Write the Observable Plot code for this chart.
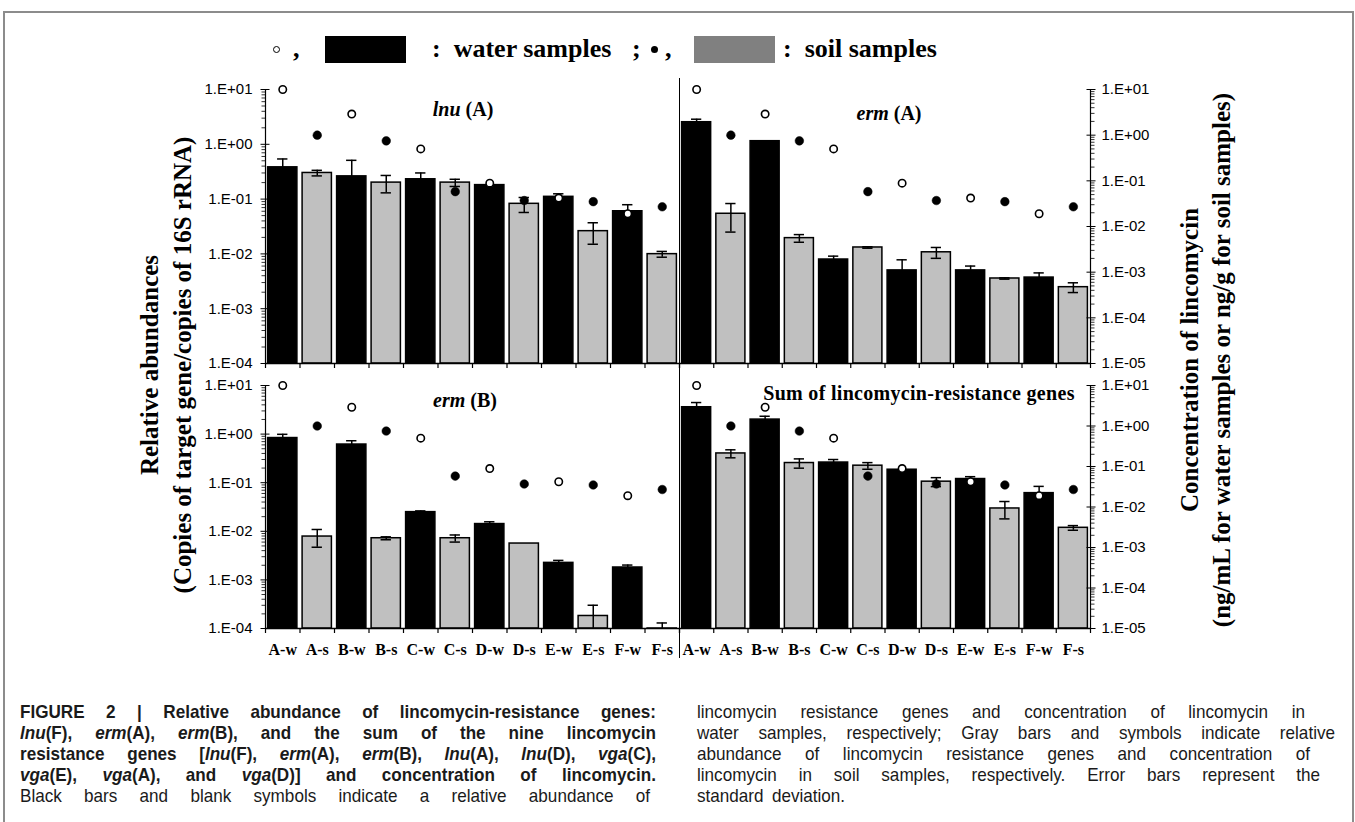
<!DOCTYPE html>
<html><head><meta charset="utf-8">
<script src="https://cdn.jsdelivr.net/npm/d3@7"></script>
<script src="https://cdn.jsdelivr.net/npm/@observablehq/plot@0.6"></script>
<style>
html,body{margin:0;padding:0;background:#fff;}
body{width:1355px;height:822px;overflow:hidden;position:relative;color:#000;font-family:"Liberation Serif","Times New Roman",serif;}
.abs{position:absolute;}
.ctr{position:absolute;transform:translate(-50%,-50%);white-space:nowrap;}
.ttl{font-weight:bold;font-size:20px;}
.ytl{position:absolute;white-space:nowrap;font-weight:bold;font-size:25px;transform:translate(-50%,-50%) rotate(-90deg);}
.leg{position:absolute;font-weight:bold;font-size:26px;line-height:30px;top:34px;white-space:nowrap;}
.cap{position:absolute;display:inline-block;font-family:"Liberation Sans",Arial,sans-serif;font-size:19px;line-height:21px;white-space:nowrap;color:#1a1a1a;transform-origin:0 0;}
svg [aria-label="x-axis tick label"]{font-family:"Liberation Serif",serif;font-weight:bold;font-size:16px;}
</style></head>
<body>
<div class="abs" style="left:3px;top:11px;width:1347px;height:900px;border:2px solid #8c8c8c;"></div>
<script>
// ---------------- data ----------------
const categories = ["A-w","A-s","B-w","B-s","C-w","C-s","D-w","D-s","E-w","E-s","F-w","F-s"];
const lnuA    = [0.38, 0.30, 0.26, 0.20, 0.23, 0.20, 0.18, 0.082, 0.11, 0.026, 0.060, 0.0099];
const lnuA_sd = [0.16, 0.035, 0.25, 0.07, 0.07, 0.03, 0, 0.025, 0.015, 0.011, 0.019, 0.0012];
const ermA    = [2.53, 0.054, 1.14, 0.0194, 0.0079, 0.0131, 0.0050, 0.0107, 0.0050, 0.00356, 0.0037, 0.00247];
const ermA_sd = [0.34, 0.029, 0.02, 0.0031, 0.0012, 0.0004, 0.0028, 0.0024, 0.0010, 0.0001, 0.0008, 0.0005];
const ermB    = [0.83, 0.0078, 0.61, 0.0072, 0.0248, 0.0072, 0.0141, 0.0056, 0.00224, 0.000181, 0.0018, 0.00009];
const ermB_sd = [0.16, 0.0031, 0.12, 0.0005, 0.0015, 0.0012, 0.0016, 0, 0.00028, 0.00012, 0.00022, 0.00004];
const sumGenes    = [3.57, 0.40, 1.99, 0.254, 0.26, 0.224, 0.185, 0.105, 0.119, 0.0295, 0.061, 0.0118];
const sumGenes_sd = [0.89, 0.075, 0.34, 0.055, 0.04, 0.035, 0, 0.022, 0.014, 0.0115, 0.023, 0.0013];
// lincomycin concentration (ng/mL water, ng/g soil), sites A..F
const concWater = [10, 2.9, 0.50, 0.089, 0.042, 0.019];
const concSoil  = [1.0, 0.75, 0.058, 0.037, 0.035, 0.027];
const abundanceTicks = [1e-4, 1e-3, 1e-2, 1e-1, 1, 10];
const concTicks = [1e-5, 1e-4, 1e-3, 1e-2, 1e-1, 1, 10];

// ---------------- helpers ----------------
const fmtE = d => { const e = Math.round(Math.log10(d)); return "1.E" + (e < 0 ? "-" : "+") + String(Math.abs(e)).padStart(2, "0"); };
function minorTicks(ticks) { const out = []; for (let k = 0; k < ticks.length - 1; k++) for (let m = 2; m <= 9; m++) out.push(m * ticks[k]); return out; }
const aDomain = [abundanceTicks[0], abundanceTicks[abundanceTicks.length - 1]];
const cDomain = [concTicks[0], concTicks[concTicks.length - 1]];
const M = {l: 90, r: 90, t: 20, b: 40};
const baseStyle = {background: "transparent", overflow: "visible", fontFamily: "'Liberation Sans', Arial, sans-serif", fontSize: "15px", color: "#000"};

function place(svg, box) {
  const d = document.createElement("div");
  d.className = "abs";
  d.style.left = (box[0] - M.l) + "px";
  d.style.top = (box[1] - M.t) + "px";
  d.appendChild(svg);
  document.body.appendChild(d);
}

function barPlot(p) {
  const [x0, y0, w, h] = p.box;
  const rows = categories.map((c, i) => ({c, i, v: p.values[i], sd: p.sd[i], soil: c.endsWith("-s")}));
  const err = rows.filter(d => d.sd > 0);
  const lo = d => Math.max(d.v - d.sd, aDomain[0] / 10);
  const marks = [
    Plot.rect(rows.filter(d => !d.soil), {x1: d => d.i, x2: d => d.i + 1, y1: () => aDomain[0], y2: "v", fill: "#000", stroke: "#000", strokeWidth: 1.5, insetLeft: 2.6, insetRight: 2.6, clip: true}),
    Plot.rect(rows.filter(d => d.soil), {x1: d => d.i, x2: d => d.i + 1, y1: () => aDomain[0], y2: "v", fill: "#c0c0c0", stroke: "#000", strokeWidth: 1.5, insetLeft: 2.6, insetRight: 2.6, clip: true}),
    Plot.ruleX(err, {x: d => d.i + 0.5, y1: lo, y2: d => d.v + d.sd, stroke: "#000", strokeWidth: 1.5, clip: true}),
    Plot.ruleY(err, {x1: d => d.i + 0.35, x2: d => d.i + 0.65, y: d => d.v + d.sd, stroke: "#000", strokeWidth: 1.5, clip: true}),
    Plot.ruleY(err, {x1: d => d.i + 0.35, x2: d => d.i + 0.65, y: lo, stroke: "#000", strokeWidth: 1.5, clip: true}),
    Plot.ruleY([aDomain[0]], {stroke: "#000", strokeWidth: 1.5}),
    Plot.axisX(d3.range(categories.length + 1), {tickSize: 5, tickFormat: () => "", label: null, strokeWidth: 1.2})
  ];
  if (p.labels) {
    marks.push(Plot.axisX(categories.map((c, i) => i + 0.5), {tickSize: 0, tickPadding: 15, tickFormat: d => categories[Math.floor(d)], label: null, fontSize: 16, fontWeight: "bold", fontFamily: "'Liberation Serif', serif"}));
  }
  if (p.left) {
    marks.push(
      Plot.ruleX([0], {stroke: "#000", strokeWidth: 1.2}),
      Plot.axisY(abundanceTicks, {anchor: "left", tickSize: 0, tickPadding: 13, tickFormat: fmtE, label: null}),
      Plot.axisY(abundanceTicks, {anchor: "left", tickSize: 9, dx: 4.5, tickFormat: () => "", label: null}),
      Plot.axisY(minorTicks(abundanceTicks), {anchor: "left", tickSize: 3.5, tickFormat: () => "", label: null, strokeWidth: 0.8})
    );
  }
  return Plot.plot({
    width: w + M.l + M.r, height: h + M.t + M.b,
    marginLeft: M.l, marginRight: M.r, marginTop: M.t, marginBottom: M.b,
    style: baseStyle,
    x: {domain: [0, categories.length]},
    y: {type: "log", domain: aDomain, axis: p.left ? undefined : null},
    marks
  });
}

function dotPlot(p) {
  const [x0, y0, w, h] = p.box;
  const water = concWater.map((v, k) => ({i: 2 * k, v}));
  const soil = concSoil.map((v, k) => ({i: 2 * k + 1, v}));
  const marks = [
    Plot.dot(water, {x: d => d.i + 0.5, y: "v", r: 3.7, fill: "#fff", stroke: "#000", strokeWidth: 1.6}),
    Plot.dot(soil, {x: d => d.i + 0.5, y: "v", r: 4.3, fill: "#000", stroke: "#000", strokeWidth: 0.5})
  ];
  if (p.right) {
    marks.push(
      Plot.ruleX([categories.length], {stroke: "#000", strokeWidth: 1.2}),
      Plot.axisY(concTicks, {anchor: "right", tickSize: 0, tickPadding: 11, tickFormat: fmtE, label: null}),
      Plot.axisY(concTicks, {anchor: "right", tickSize: 9, dx: -4.5, tickFormat: () => "", label: null}),
      Plot.axisY(minorTicks(concTicks), {anchor: "right", tickSize: 3.5, tickFormat: () => "", label: null, strokeWidth: 0.8})
    );
  }
  return Plot.plot({
    width: w + M.l + M.r, height: h + M.t + M.b,
    marginLeft: M.l, marginRight: M.r, marginTop: M.t, marginBottom: M.b,
    style: baseStyle,
    x: {domain: [0, categories.length], axis: null},
    y: {type: "log", domain: cDomain, axis: p.right ? undefined : null},
    marks
  });
}

const panels = [
  {values: lnuA, sd: lnuA_sd, box: [265, 89, 414, 274], left: true, right: false, labels: false},
  {values: ermA, sd: ermA_sd, box: [679, 89, 411, 274], left: false, right: true, labels: false},
  {values: ermB, sd: ermB_sd, box: [265, 385, 414, 243], left: true, right: false, labels: true},
  {values: sumGenes, sd: sumGenes_sd, box: [679, 385, 411, 243], left: false, right: true, labels: true}
];
for (const p of panels) { place(barPlot(p), p.box); place(dotPlot(p), p.box); }
</script>

<!-- divider between left and right panels -->
<div class="abs" style="left:678.5px;top:78px;width:1.3px;height:580px;background:#000;"></div>

<!-- panel titles -->
<div class="ctr ttl" style="left:463px;top:109px;"><i>lnu</i> (A)</div>
<div class="ctr ttl" style="left:889px;top:113px;"><i>erm</i> (A)</div>
<div class="ctr ttl" style="left:465px;top:400px;"><i>erm</i> (B)</div>
<div class="ctr ttl" style="left:919px;top:393px;letter-spacing:0.3px;">Sum of lincomycin-resistance genes</div>

<!-- axis titles -->
<div class="ytl" style="left:150px;top:365px;">Relative abundances</div>
<div class="ytl" style="left:183px;top:365px;">(Copies of target gene/copies of 16S rRNA)</div>
<div class="ytl" style="left:1190px;top:360px;">Concentration of lincomycin</div>
<div class="ytl" style="left:1222px;top:360px;">(ng/mL for water samples or ng/g for soil samples)</div>

<!-- legend -->
<div class="abs" style="left:273px;top:46px;width:5px;height:5px;border:1.5px solid #000;border-radius:50%;"></div>
<div class="leg" style="left:293px;">,</div>
<div class="abs" style="left:325px;top:36px;width:81px;height:27px;background:#000;"></div>
<div class="leg" style="left:432px;">:&nbsp; water samples</div>
<div class="leg" style="left:632px;">;</div>
<div class="abs" style="left:651px;top:46px;width:7px;height:7px;background:#000;border-radius:50%;"></div>
<div class="leg" style="left:665px;">,</div>
<div class="abs" style="left:694px;top:36px;width:81px;height:27px;background:#808080;"></div>
<div class="leg" style="left:783px;">:&nbsp; soil samples</div>

<!-- caption: each line is condensed and spread to its measured width -->
<div class="cap" data-w="636" style="left:20px;top:701px;"><b>FIGURE 2 | Relative abundance of lincomycin-resistance genes:</b></div>
<div class="cap" data-w="636" style="left:20px;top:722px;"><b><i>lnu</i>(F), <i>erm</i>(A), <i>erm</i>(B), and the sum of the nine lincomycin</b></div>
<div class="cap" data-w="636" style="left:20px;top:743px;"><b>resistance genes [<i>lnu</i>(F), <i>erm</i>(A), <i>erm</i>(B), <i>lnu</i>(A), <i>lnu</i>(D), <i>vga</i>(C),</b></div>
<div class="cap" data-w="636" style="left:20px;top:764px;"><b><i>vga</i>(E), <i>vga</i>(A), and <i>vga</i>(D)] and concentration of lincomycin.</b></div>
<div class="cap" data-w="630" style="left:20px;top:785px;">Black bars and blank symbols indicate a relative abundance of</div>
<div class="cap" data-w="608" style="left:697px;top:701px;">lincomycin resistance genes and concentration of lincomycin in</div>
<div class="cap" data-w="638" style="left:697px;top:722px;">water samples, respectively; Gray bars and symbols indicate relative</div>
<div class="cap" data-w="613" style="left:697px;top:743px;">abundance of lincomycin resistance genes and concentration of</div>
<div class="cap" data-w="623" style="left:697px;top:764px;">lincomycin in soil samples, respectively. Error bars represent the</div>
<div class="cap" data-w="0" style="left:697px;top:785px;">standard deviation.</div>
<script>
document.querySelectorAll(".cap").forEach(el => {
  const target = +el.dataset.w;
  const sx = 0.9;
  const w0 = el.getBoundingClientRect().width;
  const gaps = (el.textContent.match(/ /g) || []).length;
  let s = sx, ws = 0;
  if (target > 0) {
    if (w0 * sx > target) s = target / w0;
    else ws = (target / sx - w0) / Math.max(gaps, 1);
  } else ws = 4;
  el.style.wordSpacing = ws + "px";
  el.style.transform = "scaleX(" + s + ")";
});
</script>
</body></html>
